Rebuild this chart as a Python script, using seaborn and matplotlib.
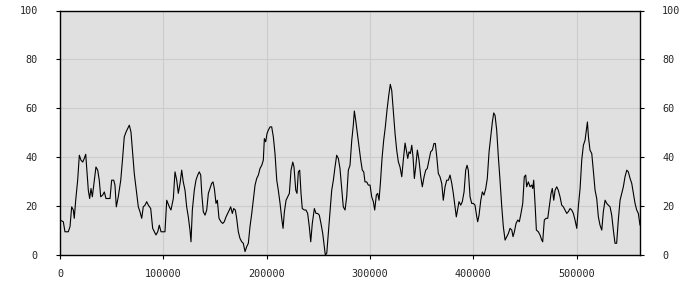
import matplotlib
matplotlib.use("Agg")
import matplotlib.pyplot as plt
import seaborn as sns
import numpy as np
import pandas as pd

# x positions (thousands) and values
x_seg1 = [0, 3.2, 4.8, 8.0, 9.7, 11.3, 12.9, 13.8, 15.2, 17.1, 18.7, 20.3, 22.0, 23.5, 24.9, 26.1, 27.4, 28.7, 30.0, 31.3,
          32.9, 34.8, 36.5, 38.0, 39.4, 41.3, 42.9, 44.5, 46.8, 48.4, 50.0, 52.0, 53.2, 54.5, 56.4, 58.8, 60.7, 62.2, 63.9, 65.5,
          67.1, 68.7, 70.4, 71.9, 73.9, 75.8, 77.4, 79.1, 80.6, 82.3, 83.9, 85.5, 87.8, 89.7, 91.3, 92.9, 94.6, 96.1, 97.8, 100.0,
          101.6, 103.3, 105.8, 107.4, 109.7, 111.3, 113.0, 114.5, 116.2, 117.8, 119.3, 121.0, 122.6, 124.2, 125.8, 126.8, 128.1, 130.0, 131.6, 133.3,
          134.8, 136.2, 137.2, 138.7]
y_seg1 = [14.3, 13.6, 9.5, 9.5, 11.6, 19.7, 18.4, 15.0, 22.4, 30.6, 40.8, 38.8, 38.0, 39.5, 41.2, 34.0, 26.5, 23.1, 27.2, 23.8,
          29.3, 36.0, 34.7, 30.6, 23.8, 24.5, 25.8, 23.1, 23.1, 23.1, 30.6, 30.6, 28.6, 19.7, 23.8, 30.6, 40.1, 48.3, 50.3, 51.7,
          53.1, 50.3, 41.5, 33.3, 26.5, 19.7, 17.7, 15.0, 19.7, 20.4, 21.8, 20.4, 19.0, 10.9, 9.5, 8.2, 9.5, 12.2, 9.5, 9.5,
          9.5, 22.4, 19.7, 18.4, 23.1, 34.0, 30.6, 25.2, 29.3, 34.7, 29.9, 26.5, 19.7, 15.6, 10.2, 5.4, 18.4, 26.5, 30.6, 32.7,
          34.0, 32.7, 25.2, 17.7]

x_seg2 = [140.4, 142.0, 143.6, 145.2, 146.8, 148.1, 149.4, 151.0, 152.3, 153.9, 155.8, 157.5, 159.0, 160.7, 162.3, 163.9, 165.2, 166.8, 168.1, 169.7,
          171.0, 172.6, 174.2, 175.9, 177.4, 179.1, 180.7, 182.3, 183.9, 185.6, 187.1, 188.8, 190.4, 192.0, 193.6, 195.3, 196.8, 197.8, 199.1, 200.4,
          201.6, 203.3, 204.9, 206.5, 208.1, 209.8, 211.3, 213.0, 214.6, 215.9, 217.2, 218.8, 220.4, 222.0, 223.6, 225.3, 226.5, 228.2, 229.4, 230.7,
          232.0, 233.3, 234.5, 236.5, 238.1, 239.7, 241.3, 242.7, 244.2, 246.2, 247.8, 249.4, 251.0, 252.6, 254.3, 255.8, 256.8, 258.2, 259.7, 261.4,
          263.0, 264.6, 266.2, 267.8, 269.4, 271.0, 272.7, 274.2, 275.9]
y_seg2 = [16.3, 18.4, 25.2, 27.2, 29.3, 29.9, 27.2, 21.1, 22.4, 15.0, 13.6, 12.9, 13.6, 15.6, 17.0, 18.4, 19.7, 17.0, 19.0, 18.4,
          15.0, 9.5, 6.8, 5.4, 4.8, 1.4, 3.4, 4.8, 11.6, 17.0, 22.4, 28.6, 31.3, 32.7, 35.4, 36.7, 38.8, 47.6, 46.3, 49.7,
          51.0, 52.4, 52.4, 48.3, 41.5, 30.6, 26.5, 21.1, 15.0, 10.9, 17.7, 22.4, 23.8, 25.2, 34.7, 38.0, 36.0, 26.5, 25.2, 34.0,
          34.7, 25.2, 19.0, 18.4, 18.4, 17.0, 11.6, 5.4, 12.9, 19.0, 17.0, 17.0, 16.3, 12.9, 8.8, 3.4, 0.0, 0.7, 8.8, 18.4,
          26.5, 30.6, 36.0, 40.8, 39.5, 35.4, 27.2, 19.7, 18.4]

x_seg3 = [277.5, 279.1, 280.7, 282.4, 283.9, 284.9, 286.2, 287.8, 289.4, 291.1, 292.6, 294.0, 295.2, 296.9, 298.4, 300.1, 301.7, 303.3, 304.6, 306.2,
          307.5, 308.8, 310.1, 311.7, 313.3, 314.9, 316.5, 318.2, 319.7, 321.1, 322.6, 324.3, 325.9, 327.5, 329.1, 330.8, 332.3, 334.0, 335.2, 336.6,
          337.8, 339.1, 340.5, 341.7, 343.0, 344.3, 345.9, 347.5, 349.2, 350.7, 352.4, 354.0, 355.5, 357.2, 358.8, 360.4, 362.0, 363.3, 364.7, 366.2,
          367.8, 369.5, 371.0, 372.7, 374.3, 375.9, 377.5, 379.2, 380.7, 382.4, 383.6, 385.0, 386.2, 387.9, 389.4, 391.1, 392.7, 394.0, 395.2, 396.9,
          398.5, 400.1, 401.7, 403.4, 404.3, 405.6, 407.3, 408.8, 410.4]
y_seg3 = [23.8, 34.7, 36.7, 46.9, 53.1, 58.9, 55.1, 49.7, 44.2, 38.8, 34.7, 34.0, 29.9, 29.9, 28.6, 28.6, 23.8, 21.8, 18.4, 24.5,
          25.2, 22.4, 29.3, 39.5, 46.9, 52.4, 59.2, 65.3, 69.8, 67.3, 59.2, 49.7, 42.9, 38.1, 36.0, 32.0, 38.8, 45.8, 42.9, 39.5,
          42.2, 41.5, 44.9, 40.1, 31.3, 36.0, 42.9, 38.8, 32.0, 27.9, 32.0, 34.7, 35.4, 38.8, 42.2, 42.9, 45.6, 45.6, 40.1, 33.3,
          32.0, 29.3, 22.4, 27.9, 30.6, 30.6, 32.7, 29.3, 25.2, 19.7, 15.6, 19.0, 21.8, 20.4, 21.8, 25.8, 34.7, 36.7, 34.7, 23.8,
          21.1, 21.1, 20.4, 15.6, 13.6, 16.3, 22.4, 25.8, 24.5]

x_seg4 = [412.1, 413.6, 415.3, 416.9, 418.5, 419.8, 421.1, 422.7, 424.3, 425.9, 427.6, 429.1, 430.8, 432.4, 434.0, 435.6, 437.3, 438.5, 439.8, 441.4,
          443.1, 444.6, 446.2, 447.9, 449.4, 450.8, 451.7, 453.3, 455.0, 456.6, 457.6, 458.5, 459.8, 461.1, 463.0, 464.6, 466.3, 467.2, 468.8, 470.4,
          472.1, 473.6, 475.3, 476.5, 477.9, 479.2, 480.8, 482.3, 484.0, 485.6, 487.2, 488.8, 490.5, 492.0, 493.7, 495.3, 496.9, 498.5, 500.2, 501.7,
          503.4, 505.0, 506.6, 508.2, 509.5, 510.5, 511.5, 513.0, 514.7, 516.2, 517.9, 519.5, 521.1, 522.7, 524.4, 525.9, 527.6, 529.2, 530.7, 532.4,
          534.0, 535.6, 537.2, 538.8, 540.4, 542.1, 543.7, 545.3, 546.9, 548.6, 550.1, 551.8, 553.4, 555.0, 556.6, 558.2, 559.8, 561.4]
y_seg4 = [27.2, 31.3, 42.2, 48.3, 54.4, 58.1, 57.1, 51.0, 40.1, 30.6, 19.7, 11.6, 6.1, 7.5, 8.8, 10.9, 10.2, 7.5, 9.5, 12.9,
          14.3, 13.6, 17.0, 21.1, 32.0, 32.7, 27.9, 29.9, 27.9, 28.6, 27.2, 30.6, 21.1, 10.2, 9.5, 8.2, 6.1, 5.4, 14.3, 15.0,
          15.0, 19.7, 25.2, 27.2, 22.4, 26.5, 27.9, 26.5, 23.8, 20.4, 19.7, 18.4, 17.0, 17.7, 19.0, 18.4, 17.0, 14.3, 10.9, 19.7,
          27.2, 38.8, 44.9, 46.9, 51.0, 54.4, 48.3, 42.9, 41.5, 34.7, 26.5, 23.1, 15.6, 12.2, 10.2, 17.7, 22.4, 21.1, 20.4, 19.7,
          16.3, 10.2, 4.8, 4.8, 14.3, 22.4, 25.2, 27.9, 32.0, 34.7, 34.0, 31.3, 29.3, 25.2, 21.1, 18.4, 17.0, 12.2]

x_ticks = [0, 100000, 200000, 300000, 400000, 500000]
y_ticks = [0, 20, 40, 60, 80, 100]
x_max = 561400

df = pd.DataFrame({
    "x": np.array(x_seg1 + x_seg2 + x_seg3 + x_seg4) * 1000,
    "y": y_seg1 + y_seg2 + y_seg3 + y_seg4,
})

sns.set_style("white", {"axes.facecolor": "#e0e0e0", "axes.edgecolor": "black",
                        "grid.color": "#cccccc", "axes.grid": True})
plt.rcParams["font.family"] = ["DejaVu Sans Mono", "DejaVu Sans"]

fig = plt.figure(figsize=(7, 3), dpi=100)
ax = fig.add_axes([60 / 700, 45 / 300, 580 / 700, 244.5 / 300])
sns.lineplot(data=df, x="x", y="y", ax=ax, color="black", linewidth=0.8, estimator=None)

ax.set_xlim(0, x_max)
ax.set_ylim(0, 100)
ax.set_xticks(x_ticks)
ax.set_yticks(y_ticks)
ax.set_xticklabels([str(t) for t in x_ticks])
ax.set_yticklabels([str(t) for t in y_ticks])
ax.set_xlabel("")
ax.set_ylabel("")
ax.grid(True, color="#cccccc", linewidth=0.8)
for s in ax.spines.values():
    s.set_visible(True)
    s.set_color("black")
    s.set_linewidth(1.0)
ax.tick_params(axis="y", which="both", left=True, right=True, labelleft=True, labelright=True,
               direction="out", length=3, width=0.8, color="black", pad=13, labelsize=7.3)
ax.tick_params(axis="x", bottom=True, top=False, direction="out", length=3, width=0.8,
               color="black", pad=7, labelsize=7.3)

fig.savefig("out.png", dpi=100, facecolor="white")
